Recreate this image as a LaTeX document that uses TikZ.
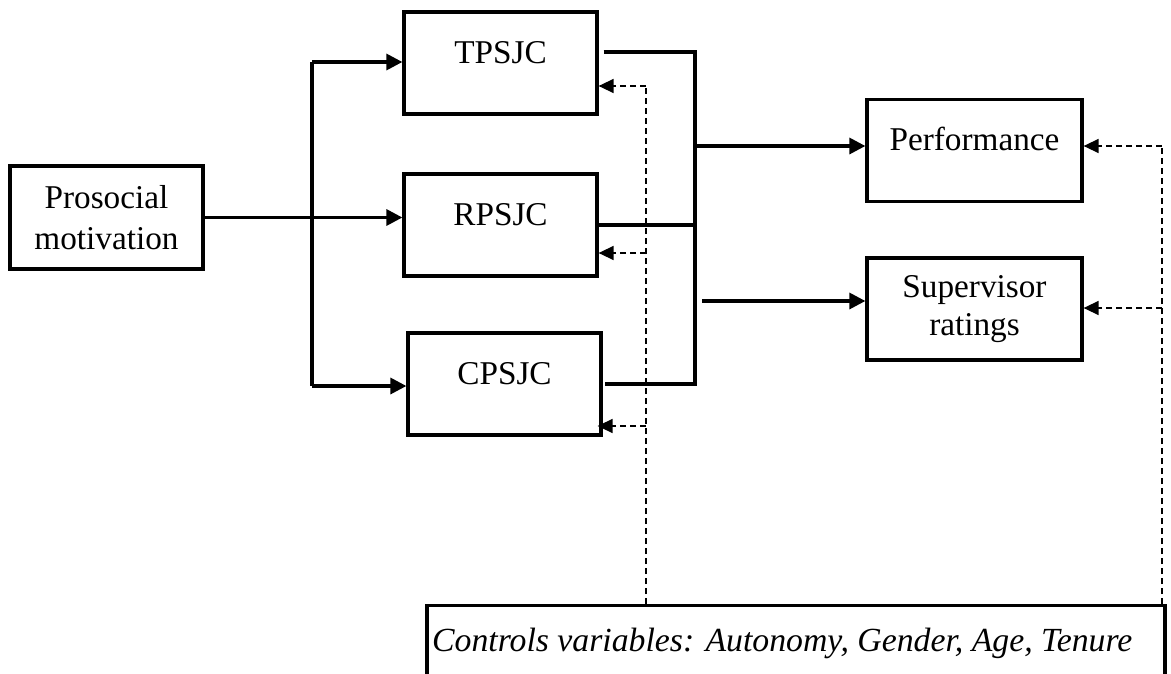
\documentclass[tikz,border=0pt]{standalone}
\usepackage{fontspec}
\setmainfont{Liberation Serif}
\usetikzlibrary{arrows.meta}

\begin{document}
\begin{tikzpicture}[x=0.4pt,y=-0.4pt,
	box/.style={draw,line width=1.3pt,inner sep=0pt,align=center,font=\fontsize{13.3}{16.4}\selectfont},
	tbox/.style={box,minimum width=77.2pt,text height=20.4pt,text depth=20.4pt},
	arr/.style={line width=1.3pt,-{Triangle[length=6.4pt,width=6.4pt]}},
	dline/.style={line width=0.6pt,dash pattern=on 2.4pt off 1.6pt},
	darr/.style={dline,-{Triangle[length=6pt,width=5.6pt]}}]
\useasboundingbox (0,0) rectangle (1171,673);
\clip (0,0) rectangle (1171,673);
% boxes
\node[box,minimum width=77.2pt,minimum height=41.2pt] (PM) at (106.5,217.5) {Prosocial\\motivation};
\node[tbox] (TP) at (500.5,63) {TPSJC};
\node[tbox] (RP) at (500.5,225) {RPSJC};
\node[tbox] (CP) at (504.5,384) {CPSJC};
\node[tbox,minimum width=86pt] (PF) at (974.5,150.5) {Performance};
\node[box,minimum width=86pt,minimum height=40.8pt,font=\fontsize{13.3}{15.4}\selectfont] (SR) at (974.5,309) {Supervisor\\ratings};
\node[box,anchor=north,minimum width=295.2pt,text height=18.4pt,text depth=30pt,
	font=\itshape\fontsize{13.5}{16}\selectfont] (CV) at (796,604) {Controls variables: Autonomy, Gender, Age, Tenure\hspace{11pt}};
% left fork
\coordinate (F1) at (312,62);
\coordinate (F2) at (312,386);
\draw[line width=1.3pt] (F1) -- (F2);
\draw[arr] (PM.east) -- (RP.west |- PM.east);
\draw[arr] (F1) -- (TP.west |- F1);
\draw[arr] (F2) -- (CP.west |- F2);
% right fork
\coordinate (J1) at (695,52);
\coordinate (J2) at (695,384);
\coordinate (J3) at (695,146);
\coordinate (J4) at (702,301);
\draw[line width=1.3pt] ([xshift=2pt]TP.east |- J1) -- (J1) -- (J2) -- ([xshift=1pt]CP.east |- J2);
\draw[line width=1.3pt] (RP.east) -- (J1 |- RP.east);
\draw[arr] (J3) -- (PF.west |- J3);
\draw[arr] (J4) -- (SR.west |- J4);
% controls
\coordinate (D1) at (646,86);
\coordinate (D2) at (646,253);
\coordinate (D3) at (646,426);
\coordinate (E1) at (1162,146);
\coordinate (E2) at (1162,308);
\draw[dline] (CV.north -| D1) -- (D1);
\draw[darr] (D1) -- (TP.east |- D1);
\draw[darr] (D2) -- (RP.east |- D2);
\draw[darr] (D3) -- ([xshift=-2pt]CP.east |- D3);
\draw[dline] (CV.north -| E1) -- (E1);
\draw[darr] (E1) -- (PF.east |- E1);
\draw[darr] (E2) -- (SR.east |- E2);
\end{tikzpicture}
\end{document}
